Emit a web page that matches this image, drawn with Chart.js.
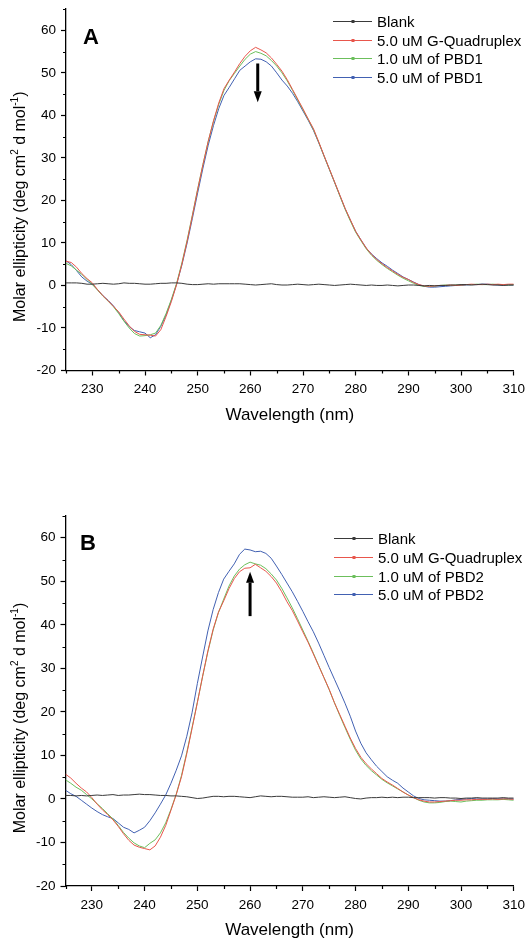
<!DOCTYPE html>
<html>
<head>
<meta charset="utf-8">
<script src="https://cdn.jsdelivr.net/npm/chart.js@4.4.0/dist/chart.umd.min.js"></script>
<style>
body { margin: 0; background: #fff; }
#wrap { position: relative; width: 531px; height: 943px; }
canvas { position: absolute; left: 0; }
#chartA { top: 0; }
#chartB { top: 470px; }
</style>
</head>
<body>
<div id="wrap">
<canvas id="chartA" width="531" height="470" style="width:531px;height:470px"></canvas>
<canvas id="chartB" width="531" height="473" style="width:531px;height:473px"></canvas>
</div>
<script>
// wavelength grid (nm)
var wavelengths = [225,226,227,228,229,230,231,232,233,234,235,236,237,238,239,240,241,242,243,244,
  245,246,247,248,249,250,251,252,253,254,255,256,257,258,259,260,261,262,263,264,
  265,266,267,268,269,270,271,272,273,274,275,276,277,278,279,280,281,282,283,284,
  285,286,287,288,289,290,291,292,293,294,295,296,297,298,299,300,301,302,303,304,
  305,306,307,308,309,310];

var xTicks = [230, 240, 250, 260, 270, 280, 290, 300, 310];
var yTicks = [-20, -10, 0, 10, 20, 30, 40, 50, 60];

// panel A
var labelsA = ["Blank", "5.0 uM G-Quadruplex", "1.0 uM of PBD1", "5.0 uM of PBD1"];
var blankA = [0.6,0.6,0.6,0.5,0.3,0.3,0.4,0.5,0.4,0.3,0.4,0.6,0.5,0.5,0.4,0.3,0.3,0.4,0.5,0.5,
  0.6,0.6,0.5,0.3,0.2,0.2,0.3,0.4,0.3,0.4,0.4,0.4,0.4,0.4,0.3,0.2,0.1,0.2,0.3,0.4,
  0.2,0.1,0.1,0.2,0.3,0.2,0.1,0.2,0.3,0.2,0.1,0.0,0.1,0.2,0.3,0.2,0.1,0.0,0.1,0.0,
  0.0,0.1,0.0,-0.1,0.0,0.1,0.1,0.0,-0.1,0.0,-0.1,0.0,0.0,0.1,0.1,0.2,0.2,0.1,0.2,0.3,
  0.2,0.1,0.1,0.0,0.1,0.1];
var quadA = [5.7,5.4,4.3,2.8,1.6,0.6,-1.0,-2.4,-3.6,-4.9,-6.2,-7.9,-9.5,-10.8,-11.5,-11.6,-11.7,-11.9,-10.4,-7.3,
  -3.8,0.2,5.0,10.4,16.4,22.6,28.4,33.9,38.7,42.9,46.3,48.3,50.2,52.2,53.9,55.2,56.0,55.4,54.7,53.5,
  52.0,50.4,48.4,46.1,43.8,41.5,39.1,36.8,33.7,30.5,27.4,24.3,21.2,18.1,15.4,12.7,10.7,8.8,7.3,6.1,
  5.1,4.2,3.4,2.6,1.9,1.4,0.7,0.2,-0.1,-0.2,-0.1,0.0,0.0,0.1,0.0,0.1,0.2,0.3,0.2,0.2,
  0.3,0.2,0.3,0.2,0.3,0.3];
var lowA = [5.2,4.6,3.6,2.6,1.4,0.2,-1.1,-2.5,-3.7,-5.0,-6.6,-8.4,-10.0,-11.3,-11.9,-11.8,-11.6,-11.2,-9.4,-6.6,
  -3.3,0.5,5.3,10.7,16.6,22.7,28.5,33.9,38.6,42.6,45.9,48.2,49.9,51.6,53.2,54.4,55.0,54.6,54.0,52.9,
  51.6,50.0,48.1,45.9,43.6,41.3,39.0,36.6,33.6,30.4,27.3,24.2,21.0,17.9,15.1,12.5,10.5,8.6,7.1,5.9,
  4.9,4.0,3.2,2.4,1.7,1.1,0.5,0.0,-0.2,-0.2,-0.1,0.0,0.1,0.0,0.1,0.1,0.2,0.2,0.3,0.2,
  0.2,0.3,0.2,0.2,0.1,0.2];
var highA = [5.8,4.9,3.5,2.0,1.0,0.3,-1.0,-2.4,-3.5,-4.8,-6.4,-8.3,-9.7,-10.6,-10.9,-11.2,-12.3,-11.6,-9.6,-6.9,
  -3.5,0.3,4.8,10.0,15.8,21.8,27.6,33.0,37.6,41.6,44.7,46.6,48.6,50.6,51.6,52.6,53.3,53.2,52.6,51.6,
  50.0,48.3,46.9,45.2,43.2,41.0,38.8,36.4,33.5,30.4,27.3,24.2,21.1,18.0,15.3,12.7,10.7,8.8,7.4,6.3,
  5.3,4.5,3.6,2.8,2.0,1.4,0.8,0.2,-0.2,-0.4,-0.4,-0.3,-0.2,-0.1,0.0,0.0,0.1,0.2,0.2,0.3,
  0.3,0.2,0.1,0.1,0.1,0.1];

// panel B
var labelsB = ["Blank", "5.0 uM G-Quadruplex", "1.0 uM of PBD2", "5.0 uM of PBD2"];
var blankB = [0.8,0.8,0.7,0.8,0.7,0.8,0.9,0.8,0.9,1.0,0.8,0.9,0.9,1.0,1.1,1.0,1.0,0.9,0.8,0.8,
  0.7,0.7,0.6,0.5,0.3,0.1,0.2,0.4,0.6,0.6,0.5,0.6,0.6,0.5,0.4,0.3,0.5,0.7,0.6,0.5,
  0.6,0.6,0.5,0.4,0.4,0.4,0.5,0.3,0.4,0.5,0.4,0.3,0.4,0.5,0.3,0.1,0.0,0.2,0.3,0.3,
  0.4,0.3,0.4,0.3,0.4,0.4,0.3,0.3,0.3,0.3,0.2,0.3,0.3,0.2,0.2,0.1,0.2,0.2,0.3,0.2,
  0.2,0.2,0.2,0.3,0.2,0.2];
var quadB = [5.7,4.8,3.6,2.5,1.6,0.3,-1.2,-2.5,-3.6,-4.8,-6.3,-8.0,-9.5,-10.6,-11.1,-11.4,-11.7,-10.8,-8.8,-6.1,
  -2.6,1.0,5.1,10.4,16.2,22.1,28.2,34.0,39.0,42.9,45.5,48.3,50.6,52.2,53.0,53.1,53.9,53.1,52.3,51.1,
  49.6,47.6,45.3,43.3,40.9,38.4,36.0,33.3,30.6,27.9,25.2,22.1,19.4,16.7,14.0,11.6,9.6,8.1,6.9,5.8,
  4.7,3.9,3.2,2.4,1.6,0.9,0.3,-0.2,-0.5,-0.7,-0.7,-0.6,-0.5,-0.4,-0.3,-0.3,-0.2,-0.2,-0.1,-0.1,
  -0.1,0.0,-0.1,0.0,0.0,-0.1];
var lowB = [4.4,3.6,2.7,2.0,1.0,0.0,-1.1,-2.2,-3.4,-4.6,-6.1,-7.7,-9.0,-10.1,-10.8,-11.2,-10.2,-9.4,-7.8,-5.5,
  -2.4,1.1,5.4,10.7,16.4,22.2,28.1,33.8,38.8,42.8,45.9,48.9,51.2,52.8,53.8,54.4,54.0,53.7,52.9,51.7,
  50.3,48.4,46.2,43.9,41.4,38.8,36.2,33.5,30.7,27.9,25.1,22.1,19.2,16.4,13.7,11.2,9.2,7.7,6.5,5.5,
  4.5,3.7,3.0,2.3,1.6,0.9,0.3,-0.3,-0.7,-0.9,-0.9,-0.8,-0.6,-0.5,-0.6,-0.7,-0.5,-0.4,-0.3,-0.3,
  -0.2,-0.2,-0.2,-0.1,-0.2,-0.3];
var highB = [2.0,1.2,0.6,-0.3,-1.2,-2.1,-2.9,-3.6,-4.1,-4.5,-5.5,-6.5,-7.0,-7.8,-7.2,-6.5,-5.0,-3.2,-1.2,0.9,
  3.6,6.6,9.9,14.4,19.8,26.5,32.6,38.6,43.5,47.4,50.5,52.3,54.0,56.2,57.4,57.2,56.8,56.9,56.4,55.3,
  53.5,51.6,49.6,47.6,45.4,43.1,40.7,38.4,35.8,33.0,30.2,27.5,24.8,22.0,19.0,15.6,12.8,10.6,9.0,7.5,
  6.3,5.1,4.3,3.6,2.5,1.6,0.7,0.1,-0.2,-0.3,-0.4,-0.5,-0.5,-0.4,-0.2,-0.1,0.0,0.1,0.0,0.0,
  0.0,0.1,0.0,0.0,0.0,0.0];

var colors = ["#3a3a3a", "#e8564c", "#6cbf5c", "#4261b2"];
var FONT = "'Liberation Sans', Arial, Helvetica, sans-serif";

function pts(values) {
  return values.map(function(v, i) { return { x: wavelengths[i], y: v }; });
}

function makeSets(labels, series) {
  return series.map(function(s, i) {
    return {
      label: labels[i],
      data: pts(s),
      borderColor: colors[i],
      backgroundColor: colors[i],
      borderWidth: 1,
      pointRadius: 0,
      tension: 0,
      fill: false
    };
  });
}

var decor = {
  id: 'decor',
  afterDraw: function(chart, args, opts) {
    var ctx = chart.ctx, area = chart.chartArea;
    var xs = chart.scales.x, ys = chart.scales.y;
    ctx.save();

    // minor ticks (shorter than major ones)
    ctx.strokeStyle = '#000';
    ctx.lineWidth = 1.2;
    ctx.beginPath();
    xs.ticks.forEach(function(t) {
      if (t.value % 10 !== 0) {
        var px = Math.round(xs.getPixelForValue(t.value)) + 0.5;
        ctx.moveTo(px, area.bottom);
        ctx.lineTo(px, area.bottom + 3);
      }
    });
    ys.ticks.forEach(function(t) {
      if (t.value % 10 !== 0) {
        var py = Math.round(ys.getPixelForValue(t.value)) + 0.5;
        ctx.moveTo(area.left, py);
        ctx.lineTo(area.left - 3, py);
      }
    });
    ctx.stroke();

    // legend
    chart.data.datasets.forEach(function(ds, i) {
      var y = Math.round(opts.legendTop + i * 18.6) + 0.5;
      ctx.strokeStyle = ds.borderColor;
      ctx.lineWidth = 1;
      ctx.beginPath();
      ctx.moveTo(opts.legendX, y);
      ctx.lineTo(opts.legendX + 39, y);
      ctx.stroke();
      ctx.fillStyle = ds.borderColor;
      ctx.fillRect(opts.legendX + 18.5, y - 1.5, 3, 3);
      ctx.fillStyle = '#000';
      ctx.font = '15px ' + FONT;
      ctx.textBaseline = 'middle';
      ctx.textAlign = 'left';
      ctx.fillText(ds.label, opts.legendX + 44, y + 1);
    });

    // panel letter
    ctx.fillStyle = '#000';
    ctx.font = 'bold 22px ' + FONT;
    ctx.textBaseline = 'alphabetic';
    ctx.fillText(opts.letter, area.left + opts.letterDx, area.top + opts.letterDy);

    // arrow
    var ax = xs.getPixelForValue(opts.arrow[0]);
    var y0 = ys.getPixelForValue(opts.arrow[1]);
    var y1 = ys.getPixelForValue(opts.arrow[2]);
    var dir = y1 > y0 ? 1 : -1;
    var head = 11;
    ctx.strokeStyle = '#000';
    ctx.lineWidth = 3;
    ctx.beginPath();
    ctx.moveTo(ax, y0);
    ctx.lineTo(ax, y1 - dir * head);
    ctx.stroke();
    ctx.beginPath();
    ctx.moveTo(ax - 4, y1 - dir * head);
    ctx.lineTo(ax + 4, y1 - dir * head);
    ctx.lineTo(ax, y1);
    ctx.closePath();
    ctx.fill();

    // x title
    ctx.font = '17px ' + FONT;
    ctx.textAlign = 'center';
    ctx.fillText('Wavelength (nm)', (area.left + area.right) / 2, area.bottom + 49);

    // y title with superscripts
    var parts = [['Molar ellipticity (deg cm', 0], ['2', 1], [' d mol', 0], ['-1', 1], [')', 0]];
    var total = 0;
    parts.forEach(function(p) {
      ctx.font = (p[1] ? '10px ' : '16px ') + FONT;
      p.push(ctx.measureText(p[0]).width);
      total += p[2];
    });
    ctx.translate(opts.yTitleX, (area.top + area.bottom) / 2 + 17);
    ctx.rotate(-Math.PI / 2);
    ctx.textAlign = 'left';
    var cx = -total / 2;
    parts.forEach(function(p) {
      ctx.font = (p[1] ? '10px ' : '16px ') + FONT;
      ctx.fillText(p[0], cx, p[1] ? -7 : 0);
      cx += p[2];
    });
    ctx.restore();
  }
};

function makeChart(id, labels, series, panel) {
  var canvas = document.getElementById(id);
  return new Chart(canvas, {
    type: 'line',
    data: { datasets: makeSets(labels, series) },
    plugins: [decor],
    options: {
      responsive: false,
      animation: false,
      layout: { padding: { left: 0, right: 531 - panel.right, top: panel.top, bottom: 0 } },
      plugins: {
        legend: { display: false },
        tooltip: { enabled: false },
        decor: panel
      },
      scales: {
        x: {
          type: 'linear',
          min: 225,
          max: 310,
          afterFit: function(s) { s.height = panel.height - panel.bottom; },
          ticks: {
            stepSize: 5,
            autoSkip: false,
            maxRotation: 0,
            padding: 6,
            color: '#000',
            font: { family: FONT, size: 13.5 },
            callback: function(v) { return xTicks.indexOf(v) >= 0 ? String(v) : ''; }
          },
          grid: {
            drawOnChartArea: false,
            drawTicks: true,
            tickLength: 5,
            tickWidth: 1.2,
            tickColor: function(c) { return c.tick && c.tick.value % 10 === 0 ? '#000' : 'rgba(0,0,0,0)'; }
          },
          border: { display: true, color: '#000', width: 1.3 }
        },
        y: {
          min: -20,
          max: 65,
          afterFit: function(s) { s.width = panel.left; },
          ticks: {
            stepSize: 5,
            padding: 5,
            color: '#000',
            font: { family: FONT, size: 13.5, lineHeight: 0.6 },
            callback: function(v) { return yTicks.indexOf(v) >= 0 ? String(v) : ''; }
          },
          grid: {
            drawOnChartArea: false,
            drawTicks: true,
            tickLength: 5,
            tickWidth: 1.2,
            tickColor: function(c) { return c.tick && c.tick.value % 10 === 0 ? '#000' : 'rgba(0,0,0,0)'; }
          },
          border: { display: true, color: '#000', width: 1.3 }
        }
      }
    }
  });
}

makeChart('chartA', labelsA, [blankA, quadA, lowA, highA], {
  left: 66, right: 515, top: 5, bottom: 370.5, height: 470,
  legendX: 333, legendTop: 21,
  letter: 'A', letterDx: 17, letterDy: 35,
  arrow: [261.4, 52.2, 43.1],
  yTitleX: 25
});

makeChart('chartB', labelsB, [blankB, quadB, lowB, highB], {
  left: 65.5, right: 514, top: 46, bottom: 416, height: 473,
  legendX: 334, legendTop: 68.3,
  letter: 'B', letterDx: 14.5, letterDy: 34,
  arrow: [260, 42, 52.2],
  yTitleX: 24.5
});
</script>
</body>
</html>
